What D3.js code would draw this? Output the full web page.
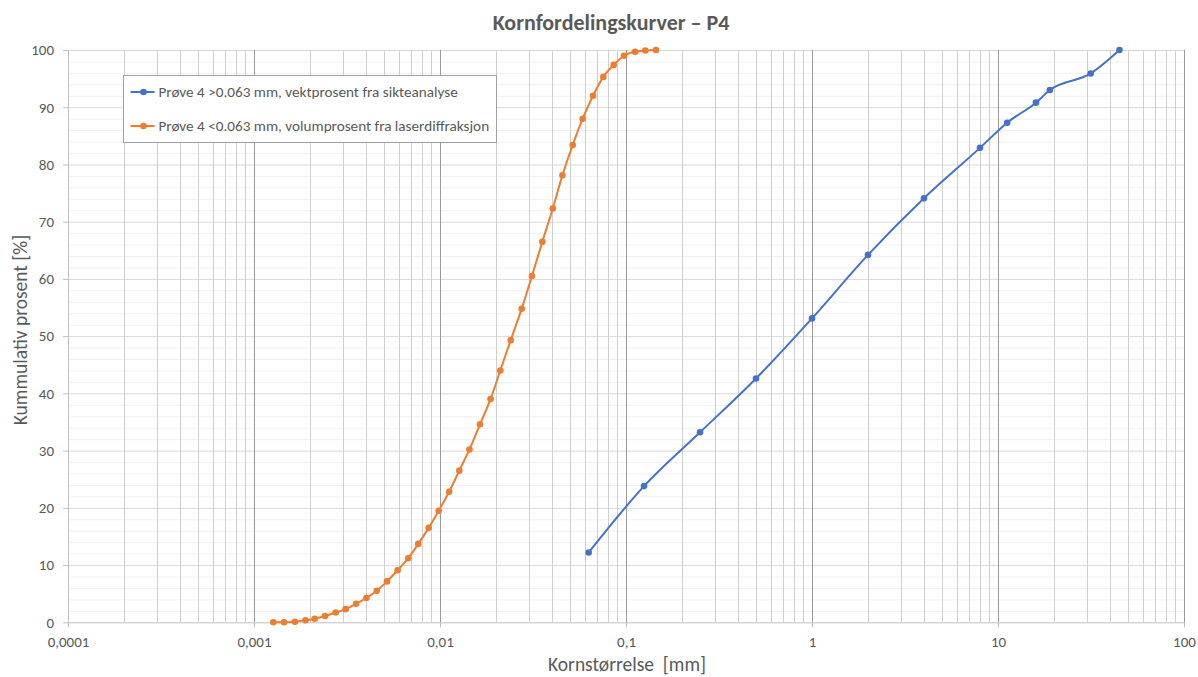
<!DOCTYPE html>
<html>
<head>
<meta charset="utf-8">
<style>
  body { margin: 0; background: #fff; font-family: Carlito, Lato, sans-serif; }
  text { fill: #595959; }
</style>
<script src="https://d3js.org/d3.v7.min.js"></script>
</head>
<body>
<script>
// sieve analysis (> 0.063 mm), weight percent passing
const sieveSizes = [0.063, 0.125, 0.25, 0.5, 1, 2, 4, 8, 11.2, 16, 19, 31.5, 45];
const sievePassing = [12.2, 23.8, 33.2, 42.6, 53.1, 64.2, 74.1, 82.9, 87.3, 90.8, 93.0, 95.9, 100];

// laser diffraction (< 0.063 mm), volume percent
const laserSizes = [0.00127, 0.00145, 0.00166, 0.00189, 0.00212, 0.00241, 0.00275, 0.00311, 0.00354, 0.00402,
  0.00457, 0.00519, 0.00592, 0.00675, 0.00764, 0.00869, 0.00984, 0.0112, 0.0127, 0.0144,
  0.0164, 0.0187, 0.0211, 0.0240, 0.0275, 0.0312, 0.0355, 0.0404, 0.0455, 0.0517,
  0.0585, 0.0665, 0.0755, 0.0859, 0.0975, 0.112, 0.127, 0.145];
const laserPassing = [0, 0, 0.1, 0.35, 0.63, 1.1, 1.7, 2.3, 3.25, 4.25,
  5.5, 7.15, 9.1, 11.2, 13.7, 16.5, 19.5, 22.8, 26.5, 30.2,
  34.6, 39.0, 44.0, 49.3, 54.8, 60.5, 66.5, 72.3, 78.1, 83.4,
  88.0, 92.0, 95.3, 97.4, 99.0, 99.7, 99.9, 100];

const seriesNames = ["Prøve 4 >0.063 mm, vektprosent fra sikteanalyse",
                     "Prøve 4 <0.063 mm, volumprosent fra laserdiffraksjon"];
const seriesColors = ["#4472C4", "#ED7D31"];
const xTickLabels = ["0,0001", "0,001", "0,01", "0,1", "1", "10", "100"];

const width = 1198, height = 677;
const margin = {left: 68, right: 14, top: 50, bottom: 54.7};
const font = "Carlito, Lato, sans-serif";

const svg = d3.select("body").append("svg")
  .attr("width", width).attr("height", height);

const x = d3.scaleLog().domain([1e-4, 100]).range([margin.left, width - margin.right]);
const y = d3.scaleLinear().domain([0, 100]).range([height - margin.bottom, margin.top]);

const grid = svg.append("g");
const xTicks = x.ticks();
const isMajor = v => Math.abs(Math.log10(v) - Math.round(Math.log10(v))) < 1e-9;

// horizontal minor + major gridlines
grid.selectAll(".ymin").data(d3.range(0, 101, 2).filter(v => v % 10 !== 0))
  .join("line")
  .attr("x1", x.range()[0]).attr("x2", x.range()[1])
  .attr("y1", d => y(d) + 0.5).attr("y2", d => y(d) + 0.5)
  .attr("stroke", "#f0f0f0").attr("stroke-width", 1);
grid.selectAll(".ymaj").data(d3.range(10, 101, 10))
  .join("line")
  .attr("x1", x.range()[0]).attr("x2", x.range()[1])
  .attr("y1", d => y(d) + 0.5).attr("y2", d => y(d) + 0.5)
  .attr("stroke", "#d9d9d9").attr("stroke-width", 1);

// vertical gridlines
grid.selectAll(".xmin").data(xTicks.filter(v => !isMajor(v)))
  .join("line")
  .attr("x1", d => Math.round(x(d)) + 0.5).attr("x2", d => Math.round(x(d)) + 0.5)
  .attr("y1", y(0)).attr("y2", y(100))
  .attr("stroke", "#cfcfcf").attr("stroke-width", 1);
grid.selectAll(".xmaj").data(xTicks.filter(v => isMajor(v) && v > 1e-4))
  .join("line")
  .attr("x1", d => Math.round(x(d)) + 0.5).attr("x2", d => Math.round(x(d)) + 0.5)
  .attr("y1", y(0)).attr("y2", y(100))
  .attr("stroke", "#9a9a9a").attr("stroke-width", 1);

// axes
const xAxis = d3.axisBottom(x)
  .tickValues(xTicks.filter(isMajor))
  .tickFormat((d, i) => xTickLabels[i])
  .tickSizeInner(5).tickSizeOuter(0).tickPadding(9);
const gx = svg.append("g").attr("transform", `translate(0,${y(0)})`).call(xAxis);
gx.select(".domain").attr("stroke", "#bfbfbf");
gx.selectAll(".tick line").attr("stroke", "#bfbfbf");
gx.selectAll(".tick text").attr("font-family", font)
  .attr("font-size", 15).attr("fill", "#595959");

const yAxis = d3.axisLeft(y).tickValues(d3.range(0, 101, 10))
  .tickSizeInner(5).tickSizeOuter(0).tickPadding(9);
const gy = svg.append("g").attr("transform", `translate(${x.range()[0]},0)`).call(yAxis);
gy.select(".domain").attr("stroke", "#bfbfbf");
gy.selectAll(".tick line").attr("stroke", "#bfbfbf");
gy.selectAll(".tick text").attr("font-family", font)
  .attr("font-size", 15).attr("fill", "#595959");

// series
const line = d3.line().x(d => x(d[0])).y(d => y(d[1])).curve(d3.curveMonotoneX);
const series = [
  d3.zip(sieveSizes, sievePassing),
  d3.zip(laserSizes, laserPassing)
];
series.forEach((pts, i) => {
  svg.append("path").datum(pts)
    .attr("d", line)
    .attr("fill", "none")
    .attr("stroke", seriesColors[i])
    .attr("stroke-width", 2);
  svg.append("g").selectAll("circle").data(pts).join("circle")
    .attr("cx", d => x(d[0])).attr("cy", d => y(d[1]))
    .attr("r", 3.3).attr("fill", seriesColors[i]);
});

// legend
const legend = svg.append("g").attr("transform", "translate(123.5,75.5)");
legend.append("rect").attr("width", 373).attr("height", 67)
  .attr("fill", "#fff").attr("stroke", "#a0a0a0").attr("stroke-width", 1);
seriesNames.forEach((name, i) => {
  const ly = 16.5 + i * 34;
  const g = legend.append("g").attr("transform", `translate(0,${ly})`);
  g.append("line").attr("x1", 7).attr("x2", 31).attr("y1", 0).attr("y2", 0)
    .attr("stroke", seriesColors[i]).attr("stroke-width", 2);
  g.append("circle").attr("cx", 20).attr("cy", 0).attr("r", 3.3).attr("fill", seriesColors[i]);
  g.append("text").attr("x", 35).attr("y", 0).attr("dy", "0.35em")
    .attr("font-size", 15.2).text(name);
});

// titles
svg.append("text").attr("x", 611).attr("y", 30).attr("text-anchor", "middle")
  .attr("font-size", 22).attr("font-weight", "bold").text("Kornfordelingskurver – P4");
svg.append("text").attr("x", 627).attr("y", 671).attr("text-anchor", "middle")
  .style("white-space", "pre")
  .attr("font-size", 19.5).text("Kornstørrelse  [mm]");
svg.append("text").attr("transform", "translate(27,330) rotate(-90)")
  .attr("text-anchor", "middle").attr("font-size", 19.5).text("Kummulativ prosent [%]");
</script>
</body>
</html>
